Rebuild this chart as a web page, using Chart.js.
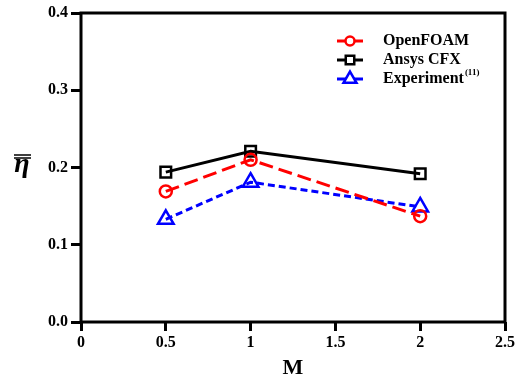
<!DOCTYPE html>
<html>
  <head>
    <meta charset="utf-8" />
    <script src="https://cdn.jsdelivr.net/npm/chart.js"></script>
    <style>
      html, body { margin: 0; padding: 0; background: #fff; }
      #wrap { width: 524px; height: 386px; }
    </style>
  </head>
  <body>
    <div id="wrap"><canvas id="etaChart" width="524" height="386"></canvas></div>
    <script>
      const mValues = [0.5, 1, 2];
      const openFoam = [0.169, 0.21, 0.137];
      const ansysCfx = [0.194, 0.221, 0.192];
      const experiment = [0.133, 0.181, 0.149];
      const xTicks = [0, 0.5, 1, 1.5, 2, 2.5];
      const yTicks = [0.0, 0.1, 0.2, 0.3, 0.4];
      const yTitle = "η";

      const serif = "'Liberation Serif', 'Times New Roman', serif";

      const toPoints = (ys) => mValues.map((x, i) => ({ x, y: ys[i] }));

      // frame around the plot, upright y title (double bar), legend top right
      const framePlugin = {
        id: "frame",
        afterDraw(chart) {
          const { ctx, chartArea: a } = chart;
          ctx.save();
          ctx.strokeStyle = "#000";
          ctx.lineWidth = 3;
          ctx.strokeRect(a.left, a.top, a.right - a.left, a.bottom - a.top);

          ctx.fillStyle = "#000";
          ctx.font = "italic bold 28px " + serif;
          ctx.textAlign = "center";
          ctx.textBaseline = "alphabetic";
          ctx.fillText(yTitle, 22, 172);
          ctx.lineWidth = 1.6;
          ctx.beginPath();
          ctx.moveTo(14, 155);
          ctx.lineTo(31, 155);
          ctx.moveTo(14, 158);
          ctx.lineTo(31, 158);
          ctx.stroke();

          const rowY = [41, 60, 79];
          chart.data.datasets.forEach((ds, i) => {
            const y = rowY[i];
            ctx.strokeStyle = ds.borderColor;
            ctx.lineWidth = 3;
            ctx.setLineDash([]);
            ctx.beginPath();
            ctx.moveTo(337, y);
            ctx.lineTo(363, y);
            ctx.stroke();
            ctx.fillStyle = "#fff";
            ctx.lineWidth = ds.pointBorderWidth;
            Chart.helpers.drawPoint(
              ctx,
              {
                pointStyle: ds.pointStyle,
                radius: ds.pointRadius - 1.5,
                borderWidth: ds.pointBorderWidth,
              },
              350,
              y
            );
            ctx.fillStyle = "#000";
            ctx.font = "bold 16px " + serif;
            ctx.textBaseline = "middle";
            ctx.textAlign = "left";
            ctx.fillText(ds.label, 383, y);
            if (ds.sup) {
              const w = ctx.measureText(ds.label).width;
              ctx.font = "bold 9px " + serif;
              ctx.fillText(ds.sup, 383 + w + 1, y - 6);
            }
          });
          ctx.restore();
        },
      };

      const ctx = document.getElementById("etaChart").getContext("2d");
      new Chart(ctx, {
        type: "line",
        data: {
          datasets: [
            {
              label: "OpenFOAM",
              data: toPoints(openFoam),
              borderColor: "#ff0000",
              borderWidth: 3,
              borderDash: [14, 6],
              pointStyle: "circle",
              pointRadius: 6,
              pointBorderWidth: 2.5,
              pointBorderColor: "#ff0000",
              pointBackgroundColor: "rgba(0,0,0,0)",
            },
            {
              label: "Ansys CFX",
              data: toPoints(ansysCfx),
              borderColor: "#000000",
              borderWidth: 3,
              pointStyle: "rect",
              pointRadius: 7.5,
              pointBorderWidth: 2.5,
              pointBorderColor: "#000000",
              pointBackgroundColor: "rgba(0,0,0,0)",
            },
            {
              label: "Experiment",
              sup: "(11)",
              data: toPoints(experiment),
              borderColor: "#0000ff",
              borderWidth: 3,
              borderDash: [7, 4],
              pointStyle: "triangle",
              pointRadius: 9,
              pointBorderWidth: 2.5,
              pointBorderColor: "#0000ff",
              pointBackgroundColor: "rgba(0,0,0,0)",
            },
          ],
        },
        options: {
          responsive: false,
          animation: false,
          layout: { padding: { left: 0, right: 19, top: 13, bottom: 0 } },
          plugins: {
            legend: { display: false },
            tooltip: { enabled: false },
          },
          scales: {
            x: {
              type: "linear",
              min: 0,
              max: 2.5,
              afterBuildTicks: (scale) => {
                scale.ticks = xTicks.map((v) => ({ value: v }));
              },
              afterFit: (scale) => {
                scale.height = 64;
              },
              border: { display: false },
              grid: {
                drawOnChartArea: false,
                drawTicks: true,
                tickLength: 9,
                tickWidth: 3,
                tickColor: "#000",
              },
              ticks: {
                color: "#000",
                font: { family: serif, size: 16, weight: "bold" },
                padding: 2,
                maxRotation: 0,
                callback: (v) => String(v),
              },
              title: {
                display: true,
                text: "M",
                color: "#000",
                font: { family: serif, size: 22, weight: "bold" },
                padding: { top: 0 },
              },
            },
            y: {
              min: 0,
              max: 0.4,
              afterBuildTicks: (scale) => {
                scale.ticks = yTicks.map((v) => ({ value: v }));
              },
              afterFit: (scale) => {
                scale.width = 81;
              },
              border: { display: false },
              grid: {
                drawOnChartArea: false,
                drawTicks: true,
                tickLength: 10,
                tickWidth: 3,
                tickColor: "#000",
              },
              ticks: {
                color: "#000",
                font: { family: serif, size: 16, weight: "bold" },
                padding: 3,
                callback: (v) => v.toFixed(1),
              },
            },
          },
        },
        plugins: [framePlugin],
      });
    </script>
  </body>
</html>
